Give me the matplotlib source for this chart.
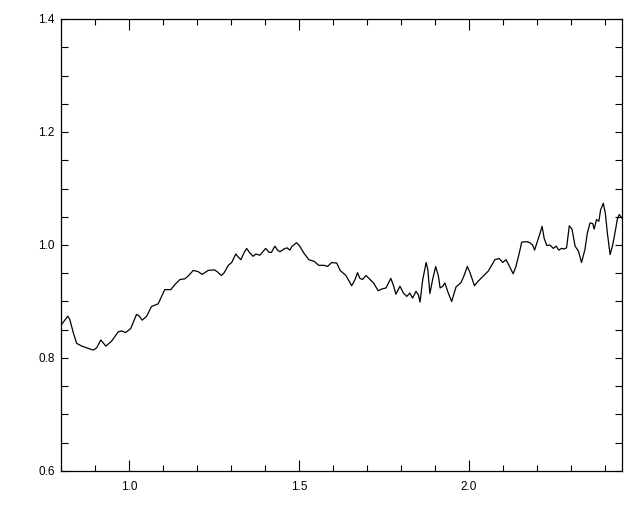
import numpy as np
import matplotlib
matplotlib.use("Agg")
import matplotlib.pyplot as plt
from matplotlib.ticker import MultipleLocator, FormatStrFormatter

# curve (x, ratio)
wave = [0.800, 0.820, 0.826, 0.836, 0.846, 0.861, 0.876, 0.895, 0.905, 0.917,
        0.932, 0.949, 0.968, 0.978, 0.990, 1.005, 1.022, 1.029, 1.039, 1.052,
        1.066, 1.086, 1.105, 1.123, 1.135, 1.150, 1.164, 1.174, 1.189, 1.203,
        1.215, 1.233, 1.251, 1.259, 1.272, 1.280, 1.292, 1.302, 1.314, 1.321,
        1.329, 1.339, 1.346, 1.354, 1.365, 1.373, 1.385, 1.402, 1.412, 1.419,
        1.429, 1.437, 1.444, 1.456, 1.465, 1.473, 1.480, 1.493, 1.502, 1.515,
        1.529, 1.545, 1.558, 1.574, 1.584, 1.596, 1.611,
        1.621, 1.638, 1.655, 1.665, 1.672, 1.679, 1.687, 1.697, 1.709, 1.719,
        1.733, 1.743, 1.756, 1.770, 1.778, 1.785, 1.797, 1.807, 1.817, 1.826,
        1.834, 1.844, 1.851, 1.856, 1.864, 1.874, 1.879, 1.885, 1.893, 1.902,
        1.910, 1.915, 1.923, 1.929, 1.939, 1.949, 1.962, 1.976, 1.985, 1.995,
        2.003, 2.016, 2.027, 2.042, 2.057, 2.076, 2.089, 2.099, 2.109, 2.119,
        2.130, 2.138, 2.148, 2.155, 2.170, 2.179, 2.187, 2.193, 2.201, 2.209,
        2.215, 2.221, 2.229, 2.238, 2.248, 2.256, 2.264, 2.272, 2.279, 2.287,
        2.295, 2.303, 2.312, 2.322, 2.331, 2.341, 2.348, 2.356, 2.364, 2.368,
        2.375, 2.382, 2.387, 2.395, 2.401, 2.407, 2.415, 2.423, 2.431, 2.436,
        2.442, 2.449]
ratio = [0.858, 0.874, 0.868, 0.845, 0.826, 0.821, 0.818, 0.814, 0.818, 0.832,
         0.821, 0.830, 0.846, 0.848, 0.845, 0.852, 0.877, 0.875, 0.867, 0.874,
         0.891, 0.896, 0.921, 0.921, 0.930, 0.939, 0.940, 0.945, 0.955, 0.953,
         0.948, 0.955, 0.956, 0.953, 0.946, 0.951, 0.964, 0.969, 0.984, 0.979,
         0.974, 0.987, 0.994, 0.987, 0.980, 0.984, 0.982, 0.994, 0.987, 0.987,
         0.998, 0.991, 0.988, 0.993, 0.995, 0.991, 0.998, 1.004, 0.998, 0.985,
         0.974, 0.971, 0.964, 0.964, 0.962, 0.969, 0.968,
         0.955, 0.946, 0.928, 0.939, 0.951, 0.941, 0.939, 0.946, 0.939, 0.933,
         0.919, 0.922, 0.924, 0.941, 0.928, 0.913, 0.927, 0.915, 0.909, 0.915,
         0.906, 0.918, 0.912, 0.899, 0.939, 0.969, 0.956, 0.914, 0.939, 0.962,
         0.945, 0.924, 0.927, 0.933, 0.915, 0.900, 0.926, 0.933, 0.945, 0.962,
         0.951, 0.928, 0.936, 0.945, 0.954, 0.974, 0.976, 0.969, 0.974, 0.962,
         0.949, 0.962, 0.986, 1.005, 1.006, 1.004, 1.000, 0.991, 1.006, 1.021,
         1.033, 1.012, 0.999, 1.000, 0.994, 0.998, 0.991, 0.994, 0.993, 0.995,
         1.034, 1.028, 0.998, 0.989, 0.969, 0.992, 1.021, 1.039, 1.038, 1.028,
         1.045, 1.042, 1.062, 1.074, 1.056, 1.021, 0.983, 1.001, 1.027, 1.045,
         1.054, 1.048]

xlim = (0.8, 2.45)
ylim = (0.6, 1.4)

plt.rcParams['font.family'] = ['Liberation Sans', 'DejaVu Sans']

fig = plt.figure(figsize=(6.4, 5.12), dpi=100)
ax = fig.add_axes([61 / 640, 1 - 471 / 512, 561 / 640, 452 / 512])

ax.plot(wave, ratio, color='black', lw=0.9)

ax.set_xlim(*xlim)
ax.set_ylim(*ylim)

ax.xaxis.set_major_locator(MultipleLocator(0.5))
ax.xaxis.set_minor_locator(MultipleLocator(0.1))
ax.yaxis.set_major_locator(MultipleLocator(0.2))
ax.yaxis.set_minor_locator(MultipleLocator(0.05))
ax.xaxis.set_major_formatter(FormatStrFormatter('%.1f'))
ax.yaxis.set_major_formatter(FormatStrFormatter('%.1f'))

ax.tick_params(axis='x', which='both', direction='in', top=True, bottom=True,
               labelsize=8.5, pad=7, width=0.8)
ax.tick_params(axis='x', which='major', length=8)
ax.tick_params(axis='x', which='minor', length=4.3)
ax.tick_params(axis='y', which='both', direction='in', left=True, right=True,
               labelsize=8.5, pad=4.5, width=0.8, length=4.7)

for s in ax.spines.values():
    s.set_linewidth(0.9)

fig.savefig("out.png", dpi=100)
